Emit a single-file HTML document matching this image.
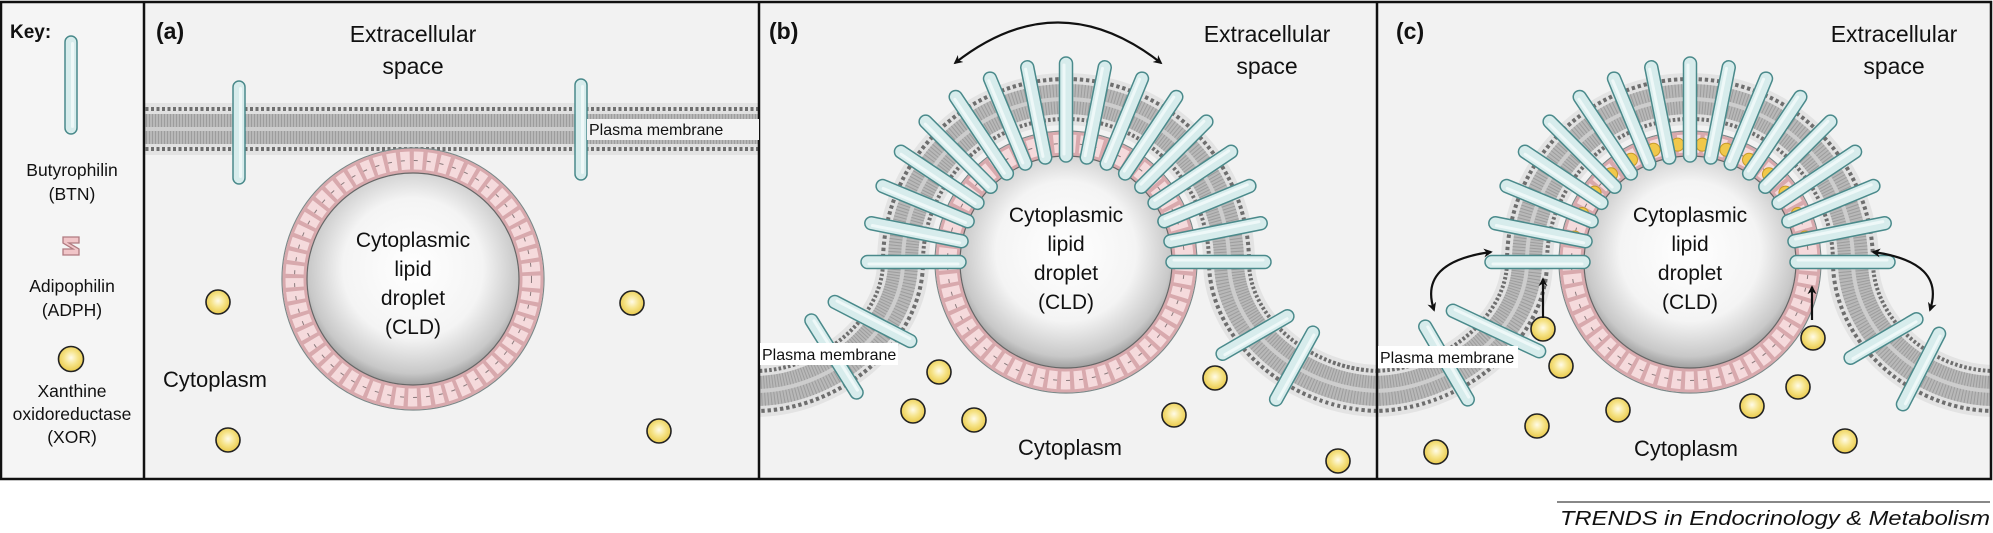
<!DOCTYPE html>
<html><head><meta charset="utf-8"><style>
html,body{margin:0;padding:0;background:#fff;}
svg{display:block;font-family:"Liberation Sans",Arial,sans-serif;}
</style></head><body>
<svg id="s" width="1993" height="533" viewBox="0 0 1993 533" xmlns="http://www.w3.org/2000/svg">
<defs>
<radialGradient id="sph" cx="50%" cy="45%" r="55%"><stop offset="0" stop-color="#ffffff"/><stop offset="0.6" stop-color="#f4f4f4"/><stop offset="0.9" stop-color="#c8c8c8"/><stop offset="1" stop-color="#a0a0a0"/></radialGradient>
<radialGradient id="xor" cx="50%" cy="45%" r="55%"><stop offset="0" stop-color="#fffbe8"/><stop offset="0.5" stop-color="#f6e48a"/><stop offset="1" stop-color="#e9c94a"/></radialGradient>
<marker id="ah" viewBox="0 0 10 10" refX="8" refY="5" markerWidth="9" markerHeight="9" orient="auto-start-reverse" markerUnits="userSpaceOnUse"><path d="M0,0 L10,5 L0,10 L3,5 z" fill="#111"/></marker>
<clipPath id="ca"><rect x="145" y="4" width="613" height="474"/></clipPath>
<clipPath id="cb"><rect x="760" y="4" width="616" height="474"/></clipPath>
<clipPath id="cc"><rect x="1378" y="4" width="612" height="474"/></clipPath>
</defs>
<rect x="1" y="2" width="1990" height="477" fill="#f2f2f2"/>
<rect x="1" y="2" width="143" height="477" fill="#f5f5f5"/>
<g id="pa" clip-path="url(#ca)"></g>
<g id="pb" clip-path="url(#cb)"></g>
<g id="pc" clip-path="url(#cc)"></g>
<g id="key"></g>
<g fill="none" stroke="#111" stroke-width="2.2">
<path d="M955,63 Q1058,-18 1161,63" marker-start="url(#ah)" marker-end="url(#ah)"/>
<path d="M1434,310 Q1418,262 1491,252" marker-start="url(#ah)" marker-end="url(#ah)"/>
<path d="M1873,252 Q1946,262 1930,310" marker-start="url(#ah)" marker-end="url(#ah)"/>
<path d="M1543,318 V279" marker-end="url(#ah)"/>
<path d="M1812,320 V287" marker-end="url(#ah)"/>
</g>
<g fill="none" stroke="#111" stroke-width="2.5">
<rect x="1" y="2" width="1990" height="477"/>
<line x1="144" y1="2" x2="144" y2="479"/>
<line x1="759" y1="2" x2="759" y2="479"/>
<line x1="1377" y1="2" x2="1377" y2="479"/>
</g>
<rect x="587" y="119" width="172" height="21" fill="#f3f3f3"/>
<rect x="760" y="343" width="138" height="22" fill="#fff"/>
<rect x="1378" y="346" width="140" height="22" fill="#fff"/>
<g fill="#111">
<text x="10" y="38" font-size="19" font-weight="bold">Key:</text>
<g font-size="17.5" text-anchor="middle">
<text x="72" y="176">Butyrophilin</text>
<text x="72" y="200">(BTN)</text>
<text x="72" y="292">Adipophilin</text>
<text x="72" y="316">(ADPH)</text>
<text x="72" y="397">Xanthine</text>
<text x="72" y="420">oxidoreductase</text>
<text x="72" y="443">(XOR)</text>
</g>
<g font-size="23" font-weight="bold">
<text x="156" y="39">(a)</text>
<text x="769" y="39">(b)</text>
<text x="1396" y="39">(c)</text>
</g>
<g font-size="23" text-anchor="middle">
<text x="413" y="42">Extracellular</text><text x="413" y="74">space</text>
<text x="1267" y="42">Extracellular</text><text x="1267" y="74">space</text>
<text x="1894" y="42">Extracellular</text><text x="1894" y="74">space</text>
</g>
<g font-size="21" text-anchor="middle">
<text x="413" y="247">Cytoplasmic</text><text x="413" y="276">lipid</text><text x="413" y="305">droplet</text><text x="413" y="334">(CLD)</text>
<text x="1066" y="222">Cytoplasmic</text><text x="1066" y="251">lipid</text><text x="1066" y="280">droplet</text><text x="1066" y="309">(CLD)</text>
<text x="1690" y="222">Cytoplasmic</text><text x="1690" y="251">lipid</text><text x="1690" y="280">droplet</text><text x="1690" y="309">(CLD)</text>
</g>
<g font-size="22">
<text x="163" y="387">Cytoplasm</text>
<text x="1070" y="455" text-anchor="middle">Cytoplasm</text>
<text x="1686" y="456" text-anchor="middle">Cytoplasm</text>
</g>
<g font-size="16">
<text x="589" y="135">Plasma membrane</text>
<text x="762" y="360">Plasma membrane</text>
<text x="1380" y="363">Plasma membrane</text>
</g>
<line x1="1557" y1="502" x2="1990" y2="502" stroke="#111" stroke-width="1"/>
<text x="1990" y="525" font-size="20" font-style="italic" text-anchor="end" textLength="430" lengthAdjust="spacingAndGlyphs">TRENDS in Endocrinology &amp; Metabolism</text>
</g>
</svg>
<script>
const NS="http://www.w3.org/2000/svg";
function el(t,a,p){const e=document.createElementNS(NS,t);for(const k in a)e.setAttribute(k,a[k]);p.appendChild(e);return e;}
function memb(d,p){
 el('path',{d:d,fill:'none',stroke:'rgba(0,0,0,0.06)','stroke-width':52},p);
 el('path',{d:d,fill:'none',stroke:'#6e6e6e','stroke-width':44,'stroke-dasharray':'3 2.5'},p);
 el('path',{d:d,fill:'none',stroke:'#e0e0e0','stroke-width':36},p);
 el('path',{d:d,fill:'none',stroke:'#b8b8b8','stroke-width':30},p);
 el('path',{d:d,fill:'none',stroke:'#9d9d9d','stroke-width':30,'stroke-dasharray':'1 2'},p);
 el('path',{d:d,fill:'none',stroke:'#cdcdcd','stroke-width':4},p);
}
function cap(x1,y1,x2,y2,p,w){w=w||13;const L=Math.hypot(x2-x1,y2-y1),a=Math.atan2(y2-y1,x2-x1)*180/Math.PI;
 const g=el('g',{transform:`translate(${x1},${y1}) rotate(${a})`},p);
 el('rect',{x:0,y:-w/2,width:L,height:w,rx:w/2,fill:'#d7ecec',stroke:'#4a8a8b','stroke-width':1.5},g);
 el('rect',{x:w/2,y:-w/2+3,width:L-w,height:3,rx:1.5,fill:'#eef8f8'},g);}
function cld(cx,cy,p,yel){
 el('circle',{cx:cx,cy:cy,r:131,fill:'none',stroke:'#7a8888','stroke-width':1.2},p);
 el('circle',{cx:cx,cy:cy,r:118.5,fill:'none',stroke:'#d8a9ad','stroke-width':24},p);
 el('circle',{cx:cx,cy:cy,r:118.5,fill:'none',stroke:'#f5dadc','stroke-width':18,'stroke-dasharray':'9 4'},p);
 el('circle',{cx:cx,cy:cy,r:118.5,fill:'none',stroke:'#8a7a7c','stroke-width':1,'stroke-dasharray':'4 9'},p);
 el('circle',{cx:cx,cy:cy,r:106,fill:'url(#sph)',stroke:'#666','stroke-width':1.2},p);
 if(yel){for(let a=192;a<=348;a+=12){const r=a*Math.PI/180;el('circle',{cx:cx+118*Math.cos(r),cy:cy+118*Math.sin(r),r:6.5,fill:'#f1c84a',stroke:'#c79a2a','stroke-width':1},p);}}
}
function spikes(cx,cy,p){for(let i=0;i<17;i++){const a=(180+i*180/16)*Math.PI/180;
 cap(cx+100*Math.cos(a),cy+100*Math.sin(a),cx+205*Math.cos(a),cy+205*Math.sin(a),p);}}
function xor(x,y,p,r){el('circle',{cx:x,cy:y,r:r||12,fill:'url(#xor)',stroke:'#222','stroke-width':1.6},p);}
const K=document.getElementById('key');
cap(71,36,71,134,K,12);
const kg=el('g',{},K);
el('path',{d:'M63,237 h16 v6 h-10 l10,6 v6 h-16 v-6 h10 l-10,-6 z',fill:'#f1c5c8',stroke:'#b07a80','stroke-width':1.3},kg);
xor(71,359,K,12.5);
const A=document.getElementById('pa');
memb('M140,129 H762',A);
cap(239,81,239,184,A,12);cap(581,79,581,180,A,12);
cld(413,279,A,false);
[[218,302],[228,440],[632,303],[659,431]].forEach(c=>xor(c[0],c[1],A));
const B=document.getElementById('pb');
memb('M755,391 C830,391 903,330 903,262 A163,163 0 0 1 1229,262 C1229,330 1302,391 1381,391',B);
cld(1066,262,B,false);
spikes(1066,262,B);
cap(808,315,860,398,B);cap(829,299,916,344,B);
cap(1293,313,1217,357,B);cap(1316,327,1273,405,B);
[[939,372],[913,411],[974,420],[1174,415],[1215,378],[1338,461]].forEach(c=>xor(c[0],c[1],B));
const C=document.getElementById('pc');
memb('M1373,391 C1450,391 1527,330 1527,262 A163,163 0 0 1 1853,262 C1853,330 1920,391 1995,391',C);
cld(1690,262,C,true);
spikes(1690,262,C);
cap(1422,321,1471,405,C);cap(1447,308,1545,354,C);
cap(1922,316,1845,361,C);cap(1942,328,1900,410,C);
[[1543,329],[1561,366],[1618,410],[1537,426],[1436,452],[1752,406],[1798,387],[1813,338],[1845,441]].forEach(c=>xor(c[0],c[1],C));
</script>
</body></html>
